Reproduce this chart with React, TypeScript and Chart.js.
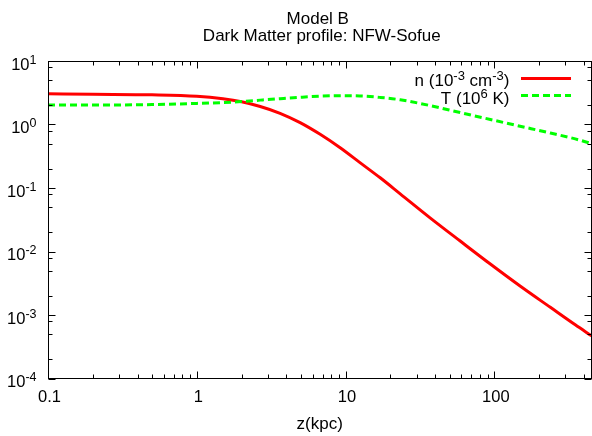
import React, { useEffect, useRef } from "react";
import { Chart, registerables } from "chart.js";

Chart.register(...registerables);

// ---- data ----
const zValues = [0.1, 0.2, 0.5, 1, 1.5, 2, 2.67, 3.63, 4.95, 6.75, 9.2, 12.5, 17.1, 23.3, 37, 59, 94, 149, 238, 350, 450];
const densityValues = [3.04, 2.99, 2.93, 2.78, 2.54, 2.28, 1.92, 1.5, 1.07, 0.70, 0.43, 0.251, 0.1447, 0.081, 0.0339, 0.0146, 0.00635, 0.00286, 0.00132, 0.0007, 0.00047];
const temperatureValues = [2.02, 2.02, 2.06, 2.15, 2.22, 2.3, 2.42, 2.55, 2.68, 2.79, 2.84, 2.82, 2.67, 2.45, 1.985, 1.54, 1.2, 0.94, 0.735, 0.593, 0.5];

const xTickValues = [0.1, 1, 10, 100];
const xTickLabels = ["0.1", "1", "10", "100"];
const yTickExponents = ["-4", "-3", "-2", "-1", "0", "1"];
const yMinorMultipliers = [2, 5, 8];

const titleLines = ["Model B", "Dark Matter profile: NFW-Sofue"];
const xAxisTitle = "z(kpc)";
const legendDensity = [{ t: "n (10" }, { t: "-3", sup: true }, { t: " cm" }, { t: "-3", sup: true }, { t: ")" }];
const legendTemperature = [{ t: "T (10" }, { t: "6", sup: true }, { t: " K)" }];

const FONT = "'Liberation Sans', Arial, Helvetica, sans-serif";
const RED = "#ff0000";
const GREEN = "#00ff00";

function drawRich(ctx: CanvasRenderingContext2D, segs: { t: string; sup?: boolean }[], rightX: number, baseline: number, main: number, sup: number) {
  let total = 0;
  const widths = segs.map((s) => {
    ctx.font = `${s.sup ? sup : main}px ${FONT}`;
    const w = ctx.measureText(s.t).width;
    total += w;
    return w;
  });
  let x = rightX - total;
  ctx.textAlign = "left";
  ctx.textBaseline = "alphabetic";
  segs.forEach((s, i) => {
    ctx.font = `${s.sup ? sup : main}px ${FONT}`;
    ctx.fillText(s.t, x, s.sup ? baseline - 6 : baseline);
    x += widths[i];
  });
}

const overlayPlugin = {
  id: "gnuplotOverlay",
  afterDraw(chart: any) {
    const { ctx, chartArea: a, scales } = chart;
    const xs = scales.x;
    const ys = scales.y;
    const L = Math.floor(a.left) + 0.5;
    const R = Math.floor(a.right) + 0.5;
    const T = Math.floor(a.top) + 0.5;
    const B = Math.floor(a.bottom) + 0.5;
    ctx.save();
    ctx.strokeStyle = "#000";
    ctx.lineWidth = 1;
    ctx.setLineDash([]);
    ctx.beginPath();
    // x ticks (bottom and top)
    for (let k = -1; k <= 2; k++) {
      for (let m = 1; m <= 9; m++) {
        const v = m * Math.pow(10, k);
        if (v < 0.1 || v > 450) continue;
        const px = Math.round(xs.getPixelForValue(v)) + 0.5;
        const len = m === 1 ? 7 : 4;
        ctx.moveTo(px, B);
        ctx.lineTo(px, B - len);
        ctx.moveTo(px, T);
        ctx.lineTo(px, T + len);
      }
    }
    // y ticks (left and right)
    for (let k = -4; k <= 1; k++) {
      const mults = [1, ...yMinorMultipliers];
      for (const m of mults) {
        const v = m * Math.pow(10, k);
        if (v < 1e-4 || v > 10) continue;
        const py = Math.round(ys.getPixelForValue(v)) + 0.5;
        const len = m === 1 ? 7 : 4;
        ctx.moveTo(L, py);
        ctx.lineTo(L + len, py);
        ctx.moveTo(R, py);
        ctx.lineTo(R - len, py);
      }
    }
    ctx.stroke();
    ctx.strokeRect(L, T, R - L, B - T);

    ctx.fillStyle = "#000";
    // x tick labels
    ctx.font = `16.5px ${FONT}`;
    ctx.textAlign = "center";
    ctx.textBaseline = "alphabetic";
    xTickValues.forEach((v, i) => {
      ctx.fillText(xTickLabels[i], xs.getPixelForValue(v) + 1.5, a.bottom + 23.5);
    });
    // y tick labels
    yTickExponents.forEach((e) => {
      const py = ys.getPixelForValue(Math.pow(10, Number(e)));
      drawRich(ctx, [{ t: "10" }, { t: e, sup: true }], 36.5, py + 8.5, 16.5, 12.5);
    });
    // titles
    const cx = (a.left + a.right) / 2;
    ctx.font = `17px ${FONT}`;
    ctx.textAlign = "center";
    ctx.fillText(titleLines[0], cx - 2, 23.5);
    ctx.fillText(titleLines[1], cx + 2, 40.5);
    ctx.fillText(xAxisTitle, cx, 428.5);

    // legend
    ctx.fillStyle = "#000";
    drawRich(ctx, legendDensity, 509.5, 86, 17, 13);
    drawRich(ctx, legendTemperature, 509.5, 103.5, 17, 13);
    ctx.lineWidth = 3;
    ctx.strokeStyle = RED;
    ctx.setLineDash([]);
    ctx.beginPath();
    ctx.moveTo(521, 78.5);
    ctx.lineTo(571, 78.5);
    ctx.stroke();
    ctx.strokeStyle = GREEN;
    ctx.setLineDash([7, 4]);
    ctx.beginPath();
    ctx.moveTo(521, 95.5);
    ctx.lineTo(571, 95.5);
    ctx.stroke();
    ctx.restore();
  },
};

export default function App() {
  const ref = useRef<HTMLCanvasElement | null>(null);
  useEffect(() => {
    document.body.style.margin = "0";
    const canvas = ref.current;
    if (!canvas) return;
    const chart = new Chart(canvas, {
      type: "line",
      data: {
        datasets: [
          {
            label: "n (10^-3 cm^-3)",
            data: zValues.map((z, i) => ({ x: z, y: densityValues[i] })),
            borderColor: RED,
            backgroundColor: RED,
            borderWidth: 3,
            pointRadius: 0,
            cubicInterpolationMode: "monotone",
            order: 1,
          },
          {
            label: "T (10^6 K)",
            data: zValues.map((z, i) => ({ x: z, y: temperatureValues[i] })),
            borderColor: GREEN,
            backgroundColor: GREEN,
            borderWidth: 3,
            borderDash: [7, 4],
            pointRadius: 0,
            cubicInterpolationMode: "monotone",
            order: 0,
          },
        ],
      },
      options: {
        responsive: false,
        animation: false,
        devicePixelRatio: 1,
        layout: { padding: { left: 48, top: 61, right: 0.5, bottom: 57.5 } },
        plugins: { legend: { display: false }, tooltip: { enabled: false }, title: { display: false } },
        scales: {
          x: { type: "logarithmic", min: 0.1, max: 450, display: false },
          y: { type: "logarithmic", min: 1e-4, max: 10, display: false },
        },
      },
      plugins: [overlayPlugin],
    } as any);
    return () => chart.destroy();
  }, []);
  return <canvas ref={ref} width={592} height={436} style={{ display: "block", width: 592, height: 436 }} />;
}
